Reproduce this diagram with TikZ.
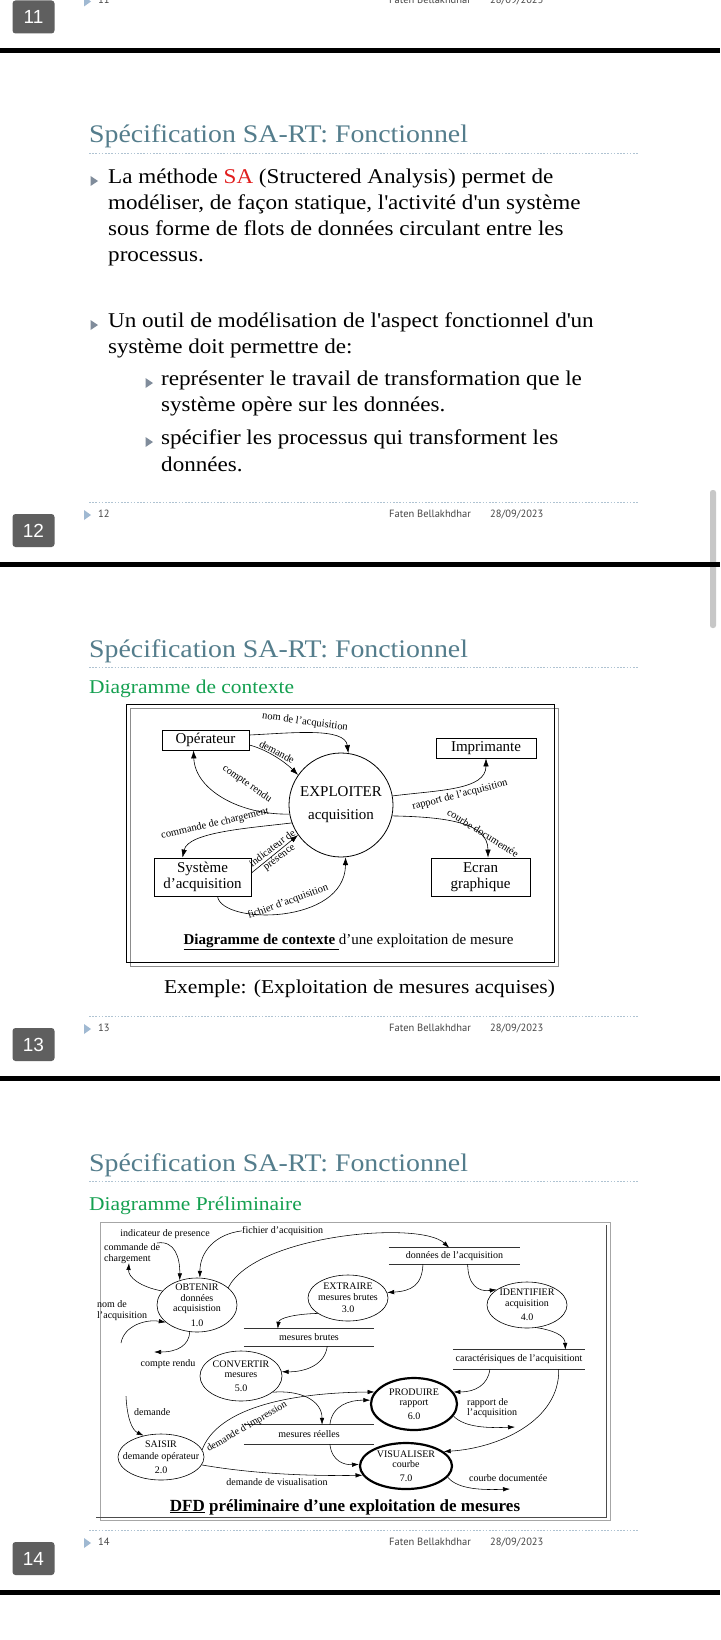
\documentclass[tikz,border=0pt]{standalone}
\usepackage{fontspec}
\setmainfont{Liberation Serif}
\newfontfamily\slidefont[FakeStretch=1.1]{Liberation Serif}
\newfontfamily\footfont{PT Sans}
\newfontfamily\badgefont{Liberation Sans}
\usetikzlibrary{shapes.geometric,arrows.meta,calc}
\definecolor{titlecol}{RGB}{84,125,140}
\definecolor{dotcol}{RGB}{175,195,210}
\definecolor{greencol}{RGB}{20,160,80}
\definecolor{sared}{RGB}{225,30,30}
\definecolor{badgecol}{RGB}{95,95,95}
\definecolor{footblue}{RGB}{160,185,210}
\definecolor{bulletcol}{RGB}{128,140,155}
\definecolor{footgray}{RGB}{70,70,70}
\newcommand\dfd{\fontsize{10}{10.5}\selectfont}
\newcommand\ctx{\fontsize{15}{16}\selectfont}
\newcommand\ctxl{\fontsize{10.5}{11}\selectfont}
\newcommand\slidefooter[2]{%
  \draw[dotline] (89,{#1-13}) -- (638,{#1-13});
  \fill[footblue] (84,{#1-5}) -- (91,#1) -- (84,{#1+5}) -- cycle;
  \node[foottext] (num#2) at (98,#1) {#2};
  \node[foottext] (auth#2) at (389,#1) {Faten Bellakhdhar};
  \node[foottext] (date#2) at (490,#1) {28/09/2023};
  \node[badge] (badge#2) at (33.5,{#1+15.5}) {#2};
  \fill[black] (0,{#1+47}) rectangle (720,{#1+52});
}
\newcommand\bodybullet[2]{\fill[bulletcol] ({#1-3.5},{#2-5}) -- ({#1+4},#2) -- ({#1-3.5},{#2+5}) -- cycle;}
\begin{document}
\begin{tikzpicture}[x=1pt,y=-1pt,
  dotline/.style={draw=dotcol, line width=0.8pt, dash pattern=on 1.6pt off 1.6pt},
  foottext/.style={anchor=mid west, inner sep=0, text=footgray, font=\footfont\fontsize{10.5}{11}\selectfont},
  badge/.style={rounded corners=3pt, fill=badgecol, text=white, minimum width=42pt, minimum height=33pt, inner sep=0, font=\badgefont\fontsize{19}{19}\selectfont},
  slidetitle/.style={anchor=mid west, inner sep=0, yshift=-6pt, text=titlecol, font=\slidefont\fontsize{25.3}{25}\selectfont},
  subtitle/.style={anchor=mid west, inner sep=0, yshift=-4pt, text=greencol, font=\slidefont\fontsize{19.5}{20}\selectfont},
  bodytext/.style={anchor=mid west, inner sep=0, yshift=-5pt, font=\slidefont\fontsize{21}{21}\selectfont},
  cbox/.style={draw, line width=0.8pt, inner sep=0, align=center, font=\ctx},
  clabel/.style={inner sep=0, font=\ctxl},
  cflow/.style={-{Latex[length=8pt,width=5.5pt]}, line width=0.6pt},
  proc/.style={ellipse, draw, line width=0.6pt, inner sep=0},
  thickp/.style={line width=2.2pt},
  proctext/.style={inner sep=0, align=center, font=\dfd},
  store/.style={inner sep=0, font=\dfd},
  storeline/.style={line width=0.8pt, draw=black!80},
  dlabel/.style={inner sep=0, font=\dfd},
  dflow/.style={-{Latex[length=7pt,width=4.5pt]}, line width=0.55pt}]
\useasboundingbox (0,0) rectangle (720,1640);
\fill[white] (0,0) rectangle (720,1640);

% ---------- remains of slide 11 ----------
\slidefooter{1.5}{11}
\fill[black!22, rounded corners=2.5pt] (710,490) rectangle (716,628);

% ---------- slide 12 ----------
\node[slidetitle] (title12) at (89,134) {Spécification SA-RT: Fonctionnel};
\draw[dotline] (89,153) -- (638,153);
\bodybullet{94}{181}
\node[bodytext] (b1l1) at (108,176) {La méthode \textcolor{sared}{SA} (Structered Analysis) permet de};
\node[bodytext] (b1l2) at (108,202) {modéliser, de façon statique, l\textquotesingle activité d\textquotesingle un système};
\node[bodytext] (b1l3) at (108,228) {sous forme de flots de données circulant entre les};
\node[bodytext] (b1l4) at (108,254) {processus.};
\bodybullet{94}{325}
\node[bodytext] (b2l1) at (108,320) {Un outil de modélisation de l\textquotesingle aspect fonctionnel d\textquotesingle un};
\node[bodytext] (b2l2) at (108,346) {système doit permettre de:};
\bodybullet{149}{383}
\node[bodytext] (s1l1) at (161,378) {représenter le travail de transformation que le};
\node[bodytext] (s1l2) at (161,404) {système opère sur les données.};
\bodybullet{149}{442}
\node[bodytext] (s2l1) at (161,437) {spécifier les processus qui transforment les};
\node[bodytext] (s2l2) at (161,464) {données.};
\slidefooter{515}{12}

% ---------- slide 13 ----------
\node[slidetitle] (title13) at (89,649) {Spécification SA-RT: Fonctionnel};
\draw[dotline] (89,667) -- (638,667);
\node[subtitle] (sub13) at (89,687) {Diagramme de contexte};
\draw[black!45, line width=1pt] (130.5,708.5) rectangle (558.5,966);
\draw[black, line width=1pt] (126,704) rectangle (554,962);
\node[cbox, minimum width=87pt, minimum height=20pt] (op) at (205.5,740) {Opérateur};
\node[cbox, minimum width=100pt, minimum height=20pt] (imp) at (486,748) {Imprimante};
\node[cbox, minimum width=97pt, minimum height=38pt] (sys) at (202.5,877) {Système\\d’acquisition};
\node[cbox, minimum width=99pt, minimum height=38pt] (ecr) at (480.5,877) {Ecran\\graphique};
\node[circle, draw, line width=0.8pt, minimum size=104pt, inner sep=0] (expl) at (341,805) {};
\node[inner sep=0, align=center, font=\ctx] (explt) at (expl) {EXPLOITER\\[7pt]acquisition};
\draw[cflow] ($(op.east)+(0,-5)$) .. controls (292,733) and (345,727) .. (expl.82);
\draw[cflow] ($(op.east)+(0,5)$) .. controls (268,750) and (285,762) .. (expl.145);
\draw[cflow] (expl.190) .. controls (240,815) and (195,790) .. ($(op.south)+(-12,0)$);
\draw[cflow] (expl.200) .. controls (250,828) and (188,832) .. ($(sys.north)+(-20,0)$);
\draw[cflow] ($(sys.east)+(0,-4)$) -- (expl.215);
\draw[cflow] ($(sys.south)+(15,0)$) .. controls (222,925) and (345,925) .. (expl.275);
\draw[cflow] (expl.10) .. controls (440,790) and (486,790) .. (imp.south);
\draw[cflow] (expl.-12) .. controls (445,817) and (488,822) .. ($(ecr.north)+(7.5,0)$);
\node[clabel, rotate=-8] (lnom) at (305,722) {nom de l’acquisition};
\node[clabel, rotate=-28] (ldem) at (277,752) {demande};
\node[clabel, rotate=-35] (lcr) at (247,784) {compte rendu};
\node[clabel, rotate=13] (lcmd) at (215,824) {commande de chargement};
\node[clabel, rotate=37, align=center] (lind) at (276,853) {indicateur de\\présence};
\node[clabel, rotate=20] (lfich) at (288,902) {fichier d’acquisition};
\node[clabel, rotate=14.5] (lrap) at (460,795) {rapport de l’acquisition};
\node[clabel, rotate=-32] (lcourbe) at (483,833) {courbe documentée};
\node[inner sep=0, font=\fontsize{15}{15}\selectfont] (ccap) at (348.5,942) {\underline{\textbf{Diagramme de contexte }}d’une exploitation de mesure};
\node[inner sep=0, font=\slidefont\fontsize{19.6}{20}\selectfont] (exemple) at (359.5,989) {Exemple: (Exploitation de mesures acquises)};
\slidefooter{1029}{13}

% ---------- slide 14 ----------
\node[slidetitle] (title14) at (89,1163) {Spécification SA-RT: Fonctionnel};
\draw[dotline] (89,1181) -- (638,1181);
\node[subtitle] (sub14) at (89,1204) {Diagramme Préliminaire};
\draw[black!35, line width=0.8pt] (100,1222) rectangle (610,1520);
\draw[black!70, line width=0.8pt] (606,1225) -- (606,1517) -- (96,1517);
% processes
\node[proc, minimum width=80pt, minimum height=54pt] (ob) at (197,1305) {};
\node[proctext] (obt) at (ob) {OBTENIR\\données\\acquisistion\\[4pt]1.0};
\node[proc, minimum width=80pt, minimum height=46pt] (ex) at (348,1298) {};
\node[proctext] (ext) at (ex) {EXTRAIRE\\mesures brutes\\[2pt]3.0};
\node[proc, minimum width=80pt, minimum height=46pt] (id) at (527,1305) {};
\node[proctext] (idt) at (id) {IDENTIFIER\\acquisition\\[4pt]4.0};
\node[proc, minimum width=82pt, minimum height=50pt] (cv) at (241,1376) {};
\node[proctext] (cvt) at (cv) {CONVERTIR\\mesures\\[3pt]5.0};
\node[proc, minimum width=86pt, minimum height=46pt] (sa) at (161,1457) {};
\node[proctext] (sat) at (sa) {SAISIR\\[2pt]demande opérateur\\[3pt]2.0};
\node[proc, thickp, minimum width=86pt, minimum height=52pt] (pr) at (414,1404) {};
\node[proctext] (prt) at (pr) {PRODUIRE\\rapport\\[3pt]6.0};
\node[proc, thickp, minimum width=92pt, minimum height=46pt] (vi) at (406,1466) {};
\node[proctext] (vit) at (vi) {VISUALISER\\courbe\\[3pt]7.0};
% stores
\node[store, minimum width=131pt, minimum height=16pt] (dacq) at (454.5,1256) {données de l’acquisition};
\node[store, minimum width=130pt, minimum height=17pt] (mb) at (309,1337.5) {mesures brutes};
\node[store, minimum width=132pt, minimum height=19pt] (ca) at (519,1359.5) {caractérisiques de l’acquisitiont};
\node[store, minimum width=130pt, minimum height=19pt] (mr) at (309,1434.5) {mesures réelles};
\foreach \s in {dacq,mb,ca,mr}{
  \draw[storeline] (\s.north west) -- (\s.north east) (\s.south west) -- (\s.south east);
}
% labels
\node[dlabel] (lind2) at (165,1234) {indicateur de presence};
\node[dlabel, anchor=mid west] (lfich2) at (242,1231) {fichier d’acquisition};
\node[dlabel, anchor=west, align=left] (lcmd2) at (104,1253.5) {commande de\\chargement};
\node[dlabel, anchor=west, align=left] (lnom2) at (97,1310.5) {nom de\\l’acquisition};
\node[dlabel] (lcr2) at (168,1364) {compte rendu};
\node[dlabel, anchor=mid west] (ldem2) at (134,1413) {demande};
\node[dlabel, anchor=west, align=left] (lrap2) at (467,1408) {rapport de\\l’acquisition};
\node[dlabel, anchor=mid west] (lcourbe2) at (469,1479) {courbe documentée};
\node[dlabel] (lvis) at (277,1482) {demande de visualisation};
\node[dlabel, rotate=30] (limp) at (247,1427) {demande d’impression};
\node[inner sep=0, font=\bfseries\fontsize{17}{17}\selectfont] (dcap) at (345,1507) {\underline{DFD} préliminaire d’une exploitation de mesures};
% free ends
\coordinate (fa) at (157,1243);
\coordinate (fc) at (129,1263);
\coordinate (fd) at (121,1343);
\coordinate (fe) at (154,1352);
\coordinate (fu) at (126,1396);
\coordinate (fo) at (515,1427);
\coordinate (fp) at (510,1489);
% flows
\draw[dflow] (fa) .. controls (175,1240) and (180,1258) .. (ob.125);
\draw[dflow] (lfich2.west) .. controls (215,1234) and (200,1252) .. (ob.84);
\draw[dflow] (ob.158) .. controls (140,1287) and (128,1277) .. (fc);
\draw[dflow] (fd) .. controls (124,1326) and (145,1319) .. (ob.209);
\draw[dflow] (ob.255) .. controls (189,1345) and (178,1352) .. (fe);
\draw[dflow] (ob.29) .. controls (255,1235) and (420,1220) .. ($(dacq.north west)!0.46!(dacq.north east)$);
\draw[dflow] ($(dacq.south west)!0.26!(dacq.south east)$) .. controls (422,1285) and (412,1291) .. (ex.8);
\draw[dflow] ($(dacq.south west)!0.6!(dacq.south east)$) .. controls (468,1285) and (478,1292) .. (id.153);
\draw[dflow] (id.293) .. controls (552,1330) and (565,1335) .. ($(ca.north west)!0.85!(ca.north east)$);
\draw[dflow] (ex.207) .. controls (295,1314) and (279,1318) .. ($(mb.north west)!0.26!(mb.north east)$);
\draw[dflow] ($(mb.south west)!0.64!(mb.south east)$) .. controls (325,1365) and (305,1372) .. (cv.6);
\draw[dflow] (cv.-27) .. controls (300,1390) and (322,1400) .. ($(mr.north west)!0.6!(mr.north east)$);
\draw[dflow] ($(ca.south west)!0.28!(ca.south east)$) .. controls (488,1385) and (475,1392) .. (pr.17);
\draw[dflow] ($(ca.south west)!0.8!(ca.south east)$) .. controls (560,1420) and (500,1448) .. (vi.21);
\draw[dflow] ($(mr.north west)!0.66!(mr.north east)$) .. controls (332,1405) and (350,1400) .. (pr.175);
\draw[dflow] (sa.10) .. controls (215,1415) and (270,1393) .. (pr.163);
\draw[dflow] ($(mr.south west)!0.66!(mr.south east)$) .. controls (332,1462) and (345,1465) .. (vi.178);
\draw[dflow] (sa.-11) .. controls (260,1475) and (320,1476) .. (vi.192);
\draw[dflow] (fu) .. controls (127,1418) and (132,1430) .. (sa.129);
\draw[dflow] (pr.-17) .. controls (465,1428) and (490,1428) .. (fo);
\draw[dflow] (vi.-15) .. controls (458,1490) and (485,1490) .. (fp);
\slidefooter{1543}{14}
\end{tikzpicture}
\end{document}
